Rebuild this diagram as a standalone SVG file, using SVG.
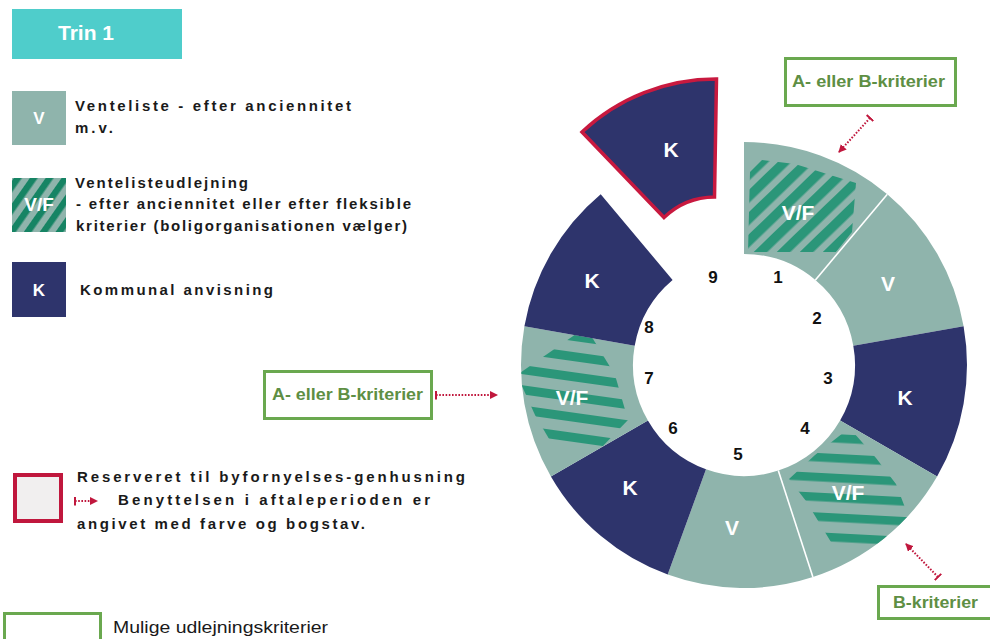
<svg xmlns="http://www.w3.org/2000/svg" width="990" height="639" viewBox="0 0 990 639">
<style>
.bg{fill:#ffffff}
.gray{fill:#8fb4ac}
.navy{fill:#2e346c}
.seglbl{font-family:"Liberation Sans",Arial,sans-serif;font-weight:bold;font-size:21px;fill:#ffffff;text-anchor:middle}
.num{font-family:"Liberation Sans",Arial,sans-serif;font-weight:bold;font-size:17px;fill:#111111;text-anchor:middle}
.leg{font-family:"Liberation Sans",Arial,sans-serif;font-size:15px;fill:#1a1a1a}
.legb{font-weight:bold}
.crit{fill:#ffffff;stroke:#6aa84f;stroke-width:3}
.critlbl{font-family:"Liberation Sans",Arial,sans-serif;font-weight:bold;font-size:16px;fill:#5e8f44}
.conn{fill:none;stroke:#c0173d;stroke-width:2;stroke-dasharray:1.6 1.6}
.sep{stroke:#ffffff;stroke-width:1.6}
.boxlbl{font-family:"Liberation Sans",Arial,sans-serif;font-weight:bold;fill:#ffffff;text-anchor:middle}
</style>
<defs>
<pattern id="diag" patternUnits="userSpaceOnUse" width="16" height="16" patternTransform="rotate(-44 800 210)">
<rect x="0" y="0" width="16" height="9.5" fill="#2b9679"/>
</pattern>
<pattern id="h7" patternUnits="userSpaceOnUse" x="0" y="372.5" width="20" height="20" patternTransform="rotate(8 575 377)">
<rect x="0" y="0" width="20" height="9" fill="#2b9679"/>
</pattern>
<pattern id="h4" patternUnits="userSpaceOnUse" x="0" y="474.5" width="20" height="19.8" patternTransform="rotate(3 850 479)">
<rect x="0" y="0" width="20" height="8.5" fill="#2b9679"/>
</pattern>
<pattern id="legdiag" patternUnits="userSpaceOnUse" width="13" height="13" patternTransform="rotate(-55 39 205)">
<rect x="0" y="0" width="13" height="6.5" fill="#168464"/>
</pattern>
<clipPath id="clip1"><polygon points="750,172 762,160 795,164 856,183 852,232 836,252 748,252"/></clipPath>
<clipPath id="clip7"><polygon points="576,334 590,334 615,375 628,420 600,449 555,449 535,415 517,375"/></clipPath>
<clipPath id="clip4"><polygon points="843,433 854,433 876,458 896,484 909,518 882,547 834,547 806,501 789,479 815,455"/></clipPath>
<marker id="head" markerUnits="userSpaceOnUse" markerWidth="10" markerHeight="10" refX="7" refY="4" orient="auto">
<path d="M0,0 L8,4 L0,8 Z" fill="#c0173d"/>
</marker>
<marker id="bar" markerUnits="userSpaceOnUse" markerWidth="4" markerHeight="10" refX="1" refY="4.5" orient="auto">
<rect x="0" y="0" width="2" height="9" fill="#c0173d"/>
</marker>
</defs>
<rect class="bg" x="0" y="0" width="990" height="639"/>

<g id="trin1">
<rect x="12" y="9" width="170" height="50" fill="#4fcdcb"/>
<text x="86" y="40" text-anchor="middle" font-family="Liberation Sans, Arial, sans-serif" font-weight="bold" font-size="21" fill="#ffffff">Trin 1</text>
</g>

<g id="legend-v">
<rect class="gray" x="12" y="91" width="54" height="54"/>
<text class="boxlbl" x="39" y="124" font-size="17">V</text>
<text class="leg legb" x="75" y="111" textLength="276" lengthAdjust="spacing">Venteliste - efter anciennitet</text>
<text class="leg legb" x="75" y="133" textLength="38" lengthAdjust="spacing">m.v.</text>
</g>

<g id="legend-vf">
<rect class="gray" x="12" y="178" width="54" height="54"/>
<rect x="12" y="178" width="54" height="54" fill="url(#legdiag)"/>
<text class="boxlbl" x="39" y="211" font-size="19">V/F</text>
<text class="leg legb" x="75" y="188" textLength="173" lengthAdjust="spacing">Ventelisteudlejning</text>
<text class="leg" x="76" y="209" font-weight="600" textLength="335" lengthAdjust="spacing">- efter anciennitet eller efter fleksible</text>
<text class="leg" x="76" y="231" font-weight="600" textLength="331" lengthAdjust="spacing">kriterier (boligorganisationen vælger)</text>
</g>

<g id="legend-k">
<rect class="navy" x="12" y="262" width="54" height="55"/>
<text class="boxlbl" x="39" y="296" font-size="17">K</text>
<text class="leg legb" x="80" y="295" textLength="193" lengthAdjust="spacing">Kommunal anvisning</text>
</g>

<g id="legend-reserved">
<rect x="15" y="475" width="46" height="46" fill="#f1efef" stroke="#c0173d" stroke-width="4"/>
<text class="leg" x="77" y="482" font-weight="600" textLength="388" lengthAdjust="spacing">Reserveret til byfornyelses-genhusning</text>
<path class="conn" d="M75,501 L97,501" marker-start="url(#bar)" marker-end="url(#head)"/>
<text class="leg" x="118" y="505" font-weight="600" textLength="312" lengthAdjust="spacing">Benyttelsen i aftaleperioden er</text>
<text class="leg" x="77" y="529" font-weight="600" textLength="288" lengthAdjust="spacing">angivet med farve og bogstav.</text>
</g>

<g id="legend-criteria">
<rect x="4.5" y="613.5" width="96" height="30" fill="#ffffff" stroke="#6aa84f" stroke-width="3"/>
<text x="113" y="633" font-family="Liberation Sans, Arial, sans-serif" font-size="17" fill="#1a1a1a" textLength="215" lengthAdjust="spacingAndGlyphs">Mulige udlejningskriterier</text>
</g>

<g id="seg1">
<path class="gray" d="M744,142 A223,223 0 0 1 887.3,194.2 L815.4,280 A111,111 0 0 0 744,254 Z"/>
<path d="M744,142 A223,223 0 0 1 887.3,194.2 L815.4,280 A111,111 0 0 0 744,254 Z" fill="url(#diag)" clip-path="url(#clip1)"/>
<text class="seglbl" x="798" y="220">V/F</text>
<text class="num" x="778" y="283">1</text>
</g>
<g id="seg2">
<path class="gray" d="M887.3,194.2 A223,223 0 0 1 963.6,326.3 L853.3,345.7 A111,111 0 0 0 815.4,280 Z"/>
<text class="seglbl" x="888" y="291">V</text>
<text class="num" x="817" y="324">2</text>
</g>
<g id="seg3">
<path class="navy" d="M963.6,326.3 A223,223 0 0 1 937.1,476.5 L840.1,420.5 A111,111 0 0 0 853.3,345.7 Z"/>
<text class="seglbl" x="905" y="405">K</text>
<text class="num" x="828" y="384">3</text>
</g>
<g id="seg4">
<path class="gray" d="M937.1,476.5 A223,223 0 0 1 812.9,577.1 L778.3,470.6 A111,111 0 0 0 840.1,420.5 Z"/>
<path d="M937.1,476.5 A223,223 0 0 1 812.9,577.1 L778.3,470.6 A111,111 0 0 0 840.1,420.5 Z" fill="url(#h4)" clip-path="url(#clip4)"/>
<text class="seglbl" x="848" y="500">V/F</text>
<text class="num" x="805" y="434">4</text>
</g>
<g id="seg5">
<path class="gray" d="M812.9,577.1 A223,223 0 0 1 667.7,574.6 L706,469.3 A111,111 0 0 0 778.3,470.6 Z"/>
<text class="seglbl" x="732" y="535">V</text>
<text class="num" x="738" y="460">5</text>
</g>
<g id="seg6">
<path class="navy" d="M667.7,574.6 A223,223 0 0 1 550.9,476.5 L647.9,420.5 A111,111 0 0 0 706,469.3 Z"/>
<text class="seglbl" x="630" y="495">K</text>
<text class="num" x="673" y="434">6</text>
</g>
<g id="seg7">
<path class="gray" d="M550.9,476.5 A223,223 0 0 1 524.4,326.3 L634.7,345.7 A111,111 0 0 0 647.9,420.5 Z"/>
<path d="M550.9,476.5 A223,223 0 0 1 524.4,326.3 L634.7,345.7 A111,111 0 0 0 647.9,420.5 Z" fill="url(#h7)" clip-path="url(#clip7)"/>
<text class="seglbl" x="572" y="405">V/F</text>
<text class="num" x="649" y="384">7</text>
</g>
<g id="seg8">
<path class="navy" d="M524.4,326.3 A223,223 0 0 1 600.7,194.2 L672.6,280 A111,111 0 0 0 634.7,345.7 Z"/>
<text class="seglbl" x="592" y="288">K</text>
<text class="num" x="649" y="333">8</text>
</g>
<g id="seg9">
<path class="navy" d="M716.5,79 A196,196 0 0 0 582,132 L664,217.5 A74,74 0 0 1 714.5,197 Z" stroke="#c8193f" stroke-width="3.5" stroke-linejoin="miter"/>
<text class="seglbl" x="671" y="157">K</text>
<text class="num" x="713" y="283">9</text>
</g>

<g id="separators">
<line class="sep" x1="887.3" y1="194.2" x2="815.4" y2="280"/>
<line class="sep" x1="812.9" y1="577.1" x2="778.3" y2="470.6"/>
</g>

<g id="crit-top">
<rect class="crit" x="785.5" y="58.5" width="170" height="47"/>
<text class="critlbl" x="792" y="87" textLength="153" lengthAdjust="spacingAndGlyphs">A- eller B-kriterier</text>
</g>
<g id="crit-left">
<rect class="crit" x="264.5" y="371.5" width="167" height="47"/>
<text class="critlbl" x="272" y="400" textLength="151" lengthAdjust="spacingAndGlyphs">A- eller B-kriterier</text>
</g>
<g id="crit-bottom">
<rect class="crit" x="878.5" y="586.5" width="120" height="32"/>
<text class="critlbl" x="893" y="608" textLength="85" lengthAdjust="spacingAndGlyphs">B-kriterier</text>
</g>

<g id="connectors">
<path class="conn" d="M870,118 L839,152" marker-start="url(#bar)" marker-end="url(#head)"/>
<path class="conn" d="M436,395 L497,395" marker-start="url(#bar)" marker-end="url(#head)"/>
<path class="conn" d="M938,577 L906,544" marker-start="url(#bar)" marker-end="url(#head)"/>
</g>
</svg>
